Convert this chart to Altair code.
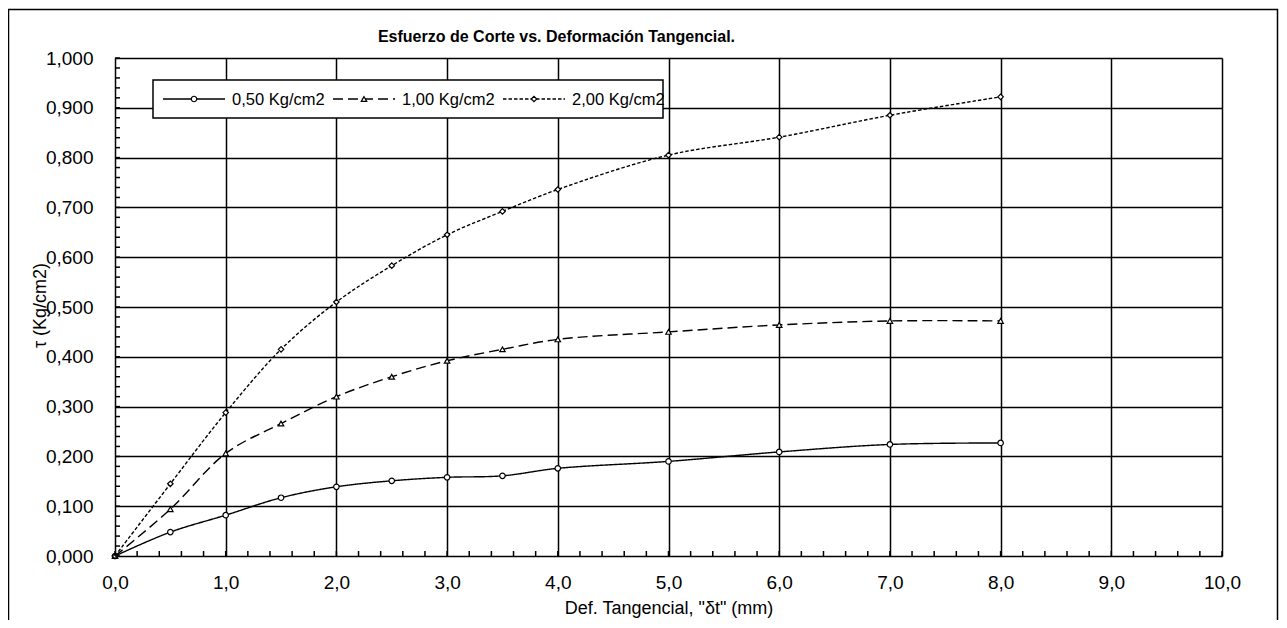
import altair as alt
import pandas as pd

# ---- data ----
def_mm = [0, 0.5, 1, 1.5, 2, 2.5, 3, 3.5, 4, 5, 6, 7, 8]
tau_050 = [0.000, 0.048, 0.082, 0.117, 0.139, 0.151, 0.158, 0.161, 0.176, 0.190, 0.209, 0.224, 0.227]
tau_100 = [0.000, 0.094, 0.206, 0.266, 0.320, 0.360, 0.392, 0.415, 0.435, 0.450, 0.464, 0.472, 0.472]
tau_200 = [0.000, 0.145, 0.288, 0.415, 0.510, 0.583, 0.645, 0.692, 0.736, 0.805, 0.841, 0.885, 0.922]
series = ["0,50 Kg/cm2", "1,00 Kg/cm2", "2,00 Kg/cm2"]

x_ticks = [0, 1, 2, 3, 4, 5, 6, 7, 8, 9, 10]
y_ticks = [0, 0.1, 0.2, 0.3, 0.4, 0.5, 0.6, 0.7, 0.8, 0.9, 1.0]
x_minor = [round(i * 0.2, 2) for i in range(51)]
y_minor = [round(i * 0.02, 2) for i in range(51)]

title_text = "Esfuerzo  de Corte vs.  Deformación Tangencial."
x_title = 'Def. Tangencial, "δt" (mm)'
y_title = "τ   (Kg/cm2)"

rows = []
for name, vals in zip(series, [tau_050, tau_100, tau_200]):
    for xv, yv in zip(def_mm, vals):
        rows.append({"x": xv, "y": yv, "serie": name})
df = pd.DataFrame(rows)
legend_df = pd.DataFrame({"serie": series, "k": list(range(len(series)))})

W, H = 1107, 498
FONT = "Liberation Sans"

xscale = alt.Scale(domain=[0, 10], nice=False, zero=False)
yscale = alt.Scale(domain=[0, 1], nice=False, zero=False)
dash_scale = alt.Scale(domain=series, range=[[1, 0], [10, 5], [3.5, 2]])
shape_scale = alt.Scale(domain=series, range=["circle", "triangle-up", "diamond"])
leg_scale = alt.Scale(domain=[0, 2], range=[48, 388], nice=False, zero=False)
LEG_Y = 41

base = alt.Chart(df)

lines = base.mark_line(color="black", strokeWidth=1.4, interpolate="catmull-rom").encode(
    x=alt.X("x:Q", scale=xscale, axis=alt.Axis(
        values=x_ticks, grid=True, gridColor="black", gridWidth=1.5, gridOpacity=1,
        ticks=False, domain=False, labelFlush=False,
        labelExpr="replace(format(datum.value, '.1f'), '.', ',')",
        labelFont=FONT, labelFontSize=19, labelColor="black", labelPadding=17,
        title=x_title, titleFont=FONT, titleFontSize=18, titleFontWeight="normal",
        titleColor="black", titleBaseline="alphabetic", titleY=57)),
    y=alt.Y("y:Q", scale=yscale, axis=alt.Axis(
        values=y_ticks, grid=True, gridColor="black", gridWidth=1.5, gridOpacity=1,
        ticks=False, domain=False, labelFlush=False,
        labelExpr="replace(format(datum.value, '.3f'), '.', ',')",
        labelFont=FONT, labelFontSize=19, labelColor="black", labelPadding=22,
        title=y_title, titleFont=FONT, titleFontSize=18, titleFontWeight="normal",
        titleColor="black", titleAngle=270, titleAlign="center", titleBaseline="middle",
        titleX=-75, titleY=247)),
    strokeDash=alt.StrokeDash("serie:N", scale=dash_scale, legend=None),
    detail="serie:N",
)

points = base.mark_point(filled=True, fill="white", stroke="black", strokeWidth=1.2, size=30, opacity=1).encode(
    x=alt.X("x:Q", scale=xscale, axis=None),
    y=alt.Y("y:Q", scale=yscale, axis=None),
    shape=alt.Shape("serie:N", scale=shape_scale, legend=None),
)

# minor ticks (inside the frame)
xminor_layer = alt.Chart(pd.DataFrame({"xm": x_minor})).mark_rule(color="black", strokeWidth=1.5).encode(
    x=alt.X("xm:Q", scale=xscale, axis=None),
    y=alt.value(H - 5), y2=alt.value(H),
)
yminor_layer = alt.Chart(pd.DataFrame({"ym": y_minor})).mark_rule(color="black", strokeWidth=1.5).encode(
    y=alt.Y("ym:Q", scale=yscale, axis=None),
    x=alt.value(0), x2=alt.value(5),
)

# legend (inside the plot, boxed)
legend_box = alt.Chart(pd.DataFrame({"b": [1]})).mark_rect(
    fill="white", stroke="black", strokeWidth=1.5
).encode(x=alt.value(38), x2=alt.value(548), y=alt.value(22), y2=alt.value(60))

leg_base = alt.Chart(legend_df)
leg_lines = leg_base.mark_rule(color="black", strokeWidth=1.4, x2Offset=62).encode(
    x=alt.X("k:Q", scale=leg_scale, axis=None),
    x2="k:Q",
    y=alt.value(LEG_Y),
    strokeDash=alt.StrokeDash("serie:N", scale=dash_scale, legend=None),
)
leg_marks = leg_base.mark_point(filled=True, fill="white", stroke="black", strokeWidth=1.2, size=30,
                                opacity=1, xOffset=31).encode(
    x=alt.X("k:Q", scale=leg_scale, axis=None),
    y=alt.value(LEG_Y),
    shape=alt.Shape("serie:N", scale=shape_scale, legend=None),
)
leg_text = leg_base.mark_text(font=FONT, fontSize=16.5, align="left", baseline="middle",
                              color="black", xOffset=69, dy=1).encode(
    x=alt.X("k:Q", scale=leg_scale, axis=None),
    y=alt.value(LEG_Y),
    text="serie:N",
)

title_layer = alt.Chart(pd.DataFrame({"t": [title_text]})).mark_text(
    font=FONT, fontSize=16, fontWeight="bold", align="center", baseline="alphabetic", color="black"
).encode(x=alt.value(441.5), y=alt.value(-16), text="t:N")

border = alt.Chart(pd.DataFrame({"b": [1]})).mark_rect(
    fillOpacity=0, stroke="black", strokeWidth=1.5
).encode(x=alt.value(-106.5), x2=alt.value(1162.5), y=alt.value(-48.5), y2=alt.value(700))

chart = alt.layer(
    border, lines, points, xminor_layer, yminor_layer,
    legend_box, leg_lines, leg_marks, leg_text, title_layer
).resolve_scale(x="independent").resolve_axis(x="independent", y="independent").properties(
    width=W, height=H,
    autosize=alt.AutoSizeParams(type="none"),
    padding={"left": 107, "top": 50, "right": 57, "bottom": 64},
).configure_view(stroke="black", strokeWidth=2).configure(background="white")

chart.save("out.html", embed_options={"renderer": "svg", "actions": False})
